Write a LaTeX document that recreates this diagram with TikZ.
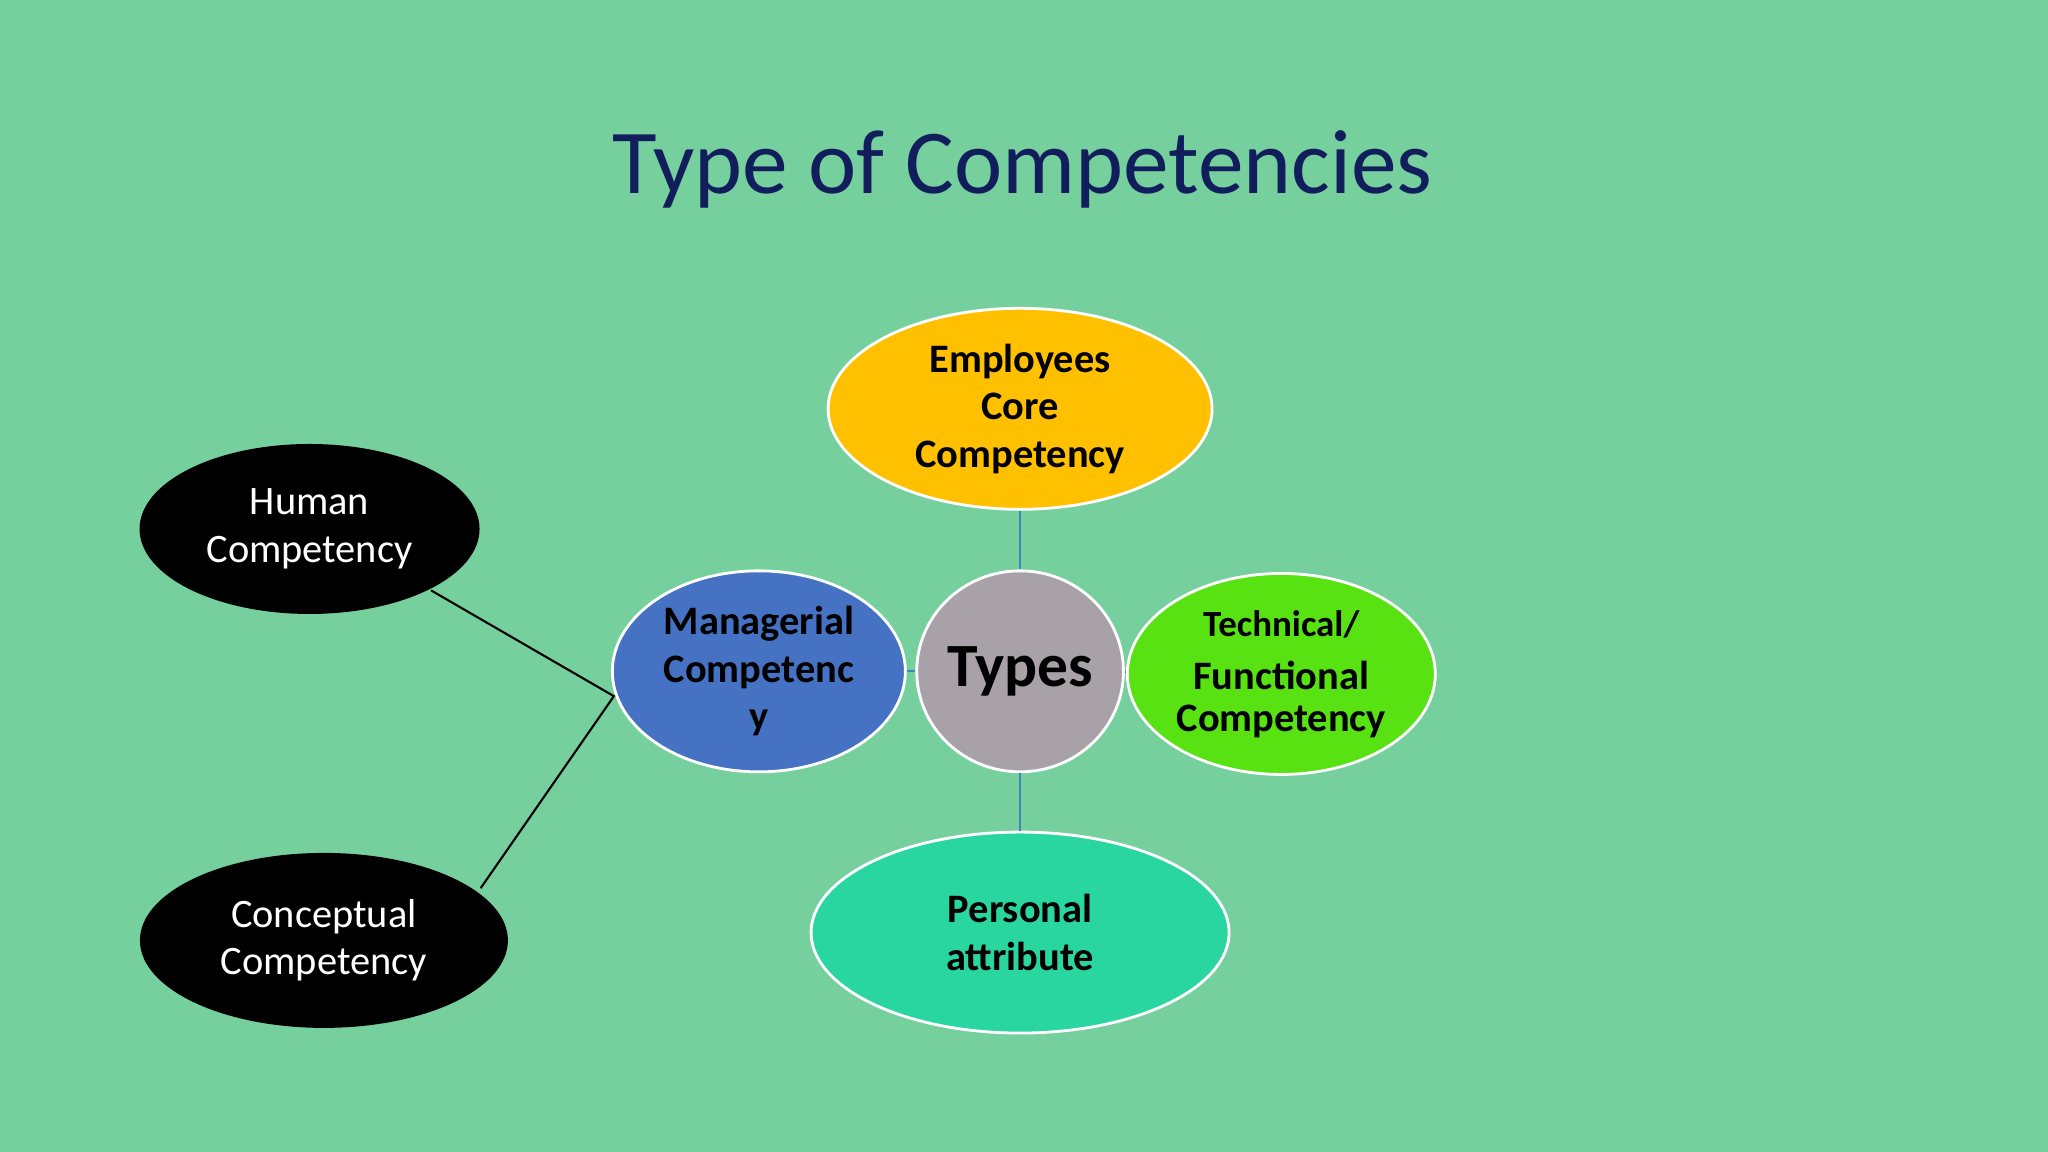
\documentclass[tikz,border=0pt]{standalone}
\usepackage{fontspec}
\setmainfont{Carlito}
\usetikzlibrary{shapes.geometric}
\definecolor{bg}{RGB}{118,208,158}
\definecolor{ttl}{RGB}{18,30,92}
\definecolor{gold}{RGB}{255,192,0}
\definecolor{gry}{RGB}{168,162,168}
\definecolor{mblue}{RGB}{70,114,196}
\definecolor{lgreen}{RGB}{88,226,18}
\definecolor{teal2}{RGB}{42,214,160}
\definecolor{lnk}{RGB}{70,130,190}
\tikzset{
 ell/.style={ellipse,draw=white,line width=0.8pt,inner sep=0pt,align=center,font=\bfseries\fontsize{11.5}{13.5}\selectfont},
 blk/.style={ellipse,fill=black,inner sep=0pt,align=center,text=white,font=\fontsize{11.5}{13.5}\selectfont},
 lk/.style={draw=lnk,line width=0.6pt}
}
\begin{document}
\begin{tikzpicture}[x=0.013061cm,y=-0.013061cm]
\fill[bg] (0,0) rectangle (1568,882);
\node[text=ttl,font=\fontsize{26}{30}\selectfont] (title) at (783,130) {Type of Competencies};
\node[ell,fill=gold,minimum width=3.84cm,minimum height=2.01cm] (emp) at (781,313) {Employees\\Core\\Competency};
\node[ell,fill=gry,minimum width=2.01cm,minimum height=2.01cm,font=\bfseries\fontsize{17.5}{20}\selectfont] (typ) at (781,514) {Types};
\node[ell,fill=mblue,minimum width=2.93cm,minimum height=2.01cm] (man) at (581,514) {Managerial\\Competenc\\y};
\node[ell,fill=lgreen,minimum width=3.08cm,minimum height=2.01cm,font=\bfseries\fontsize{10.5}{15}\selectfont] (tec) at (981,516) {Technical/\\\fontsize{11.5}{13}\selectfont Functional\\[-3pt]\fontsize{11.5}{13}\selectfont Competency};
\node[ell,fill=teal2,minimum width=4.18cm,minimum height=2.01cm] (per) at (781,714) {Personal\\attribute};
\node[blk,minimum width=3.4cm,minimum height=1.7cm] (hum) at (237,405) {Human\\Competency};
\node[blk,minimum width=3.68cm,minimum height=1.75cm] (con) at (248,720) {Conceptual\\Competency};
\draw[lk] (typ) -- (emp);
\draw[lk] (typ) -- (per);
\draw[lk] (typ) -- (man);
\draw[lk] (typ) -- (tec);
\coordinate (j) at (470,533);
\coordinate (h) at (330,452);
\coordinate (c) at (368,680);
\draw[black,line width=0.6pt] (h) -- (j) -- (c);
\end{tikzpicture}
\end{document}
